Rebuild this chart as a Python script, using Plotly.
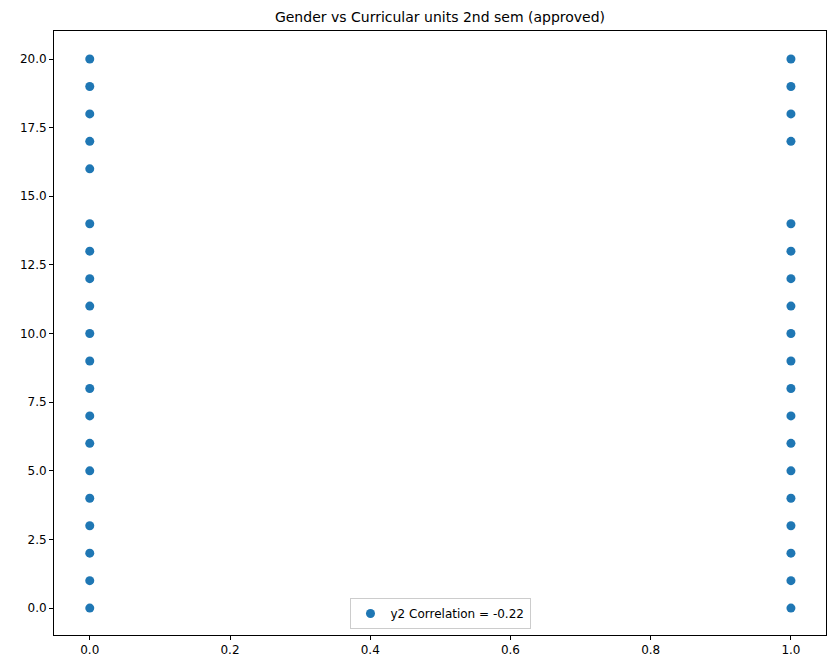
import plotly.graph_objects as go

# unique (gender, approved units) values seen in the scatter
female_units = [0, 1, 2, 3, 4, 5, 6, 7, 8, 9, 10, 11, 12, 13, 14, 16, 17, 18, 19, 20]
male_units = [0, 1, 2, 3, 4, 5, 6, 7, 8, 9, 10, 11, 12, 13, 14, 17, 18, 19, 20]
gender = [0] * len(female_units) + [1] * len(male_units)
units = female_units + male_units

fig = go.Figure()
fig.add_trace(go.Scatter(
    x=gender, y=units, mode="markers",
    name="y2 Correlation = -0.22",
    marker=dict(color="#1f77b4", size=9),
))

axis = dict(
    showgrid=False, zeroline=False, showline=True, mirror=True,
    linecolor="black", linewidth=1, ticks="outside", ticklen=4,
    tickcolor="black", tickfont=dict(size=12, color="black"),
)
fig.update_xaxes(range=[-0.051, 1.05], tickvals=[0, 0.2, 0.4, 0.6, 0.8, 1.0],
                 ticktext=["0.0", "0.2", "0.4", "0.6", "0.8", "1.0"], **axis)
fig.update_yaxes(range=[-0.98, 21.02], tickvals=[i * 2.5 for i in range(9)],
                 ticktext=[f"{i * 2.5:.1f}" for i in range(9)], **axis)

fig.update_layout(
    width=835, height=668,
    plot_bgcolor="white", paper_bgcolor="white",
    font=dict(family="DejaVu Sans", color="black"),
    title=dict(text="Gender vs Curricular units 2nd sem (approved)",
               xref="paper", x=0.5, xanchor="center",
               yref="container", y=0.986, yanchor="middle", font=dict(size=14)),
    margin=dict(l=43, r=17, t=23, b=41),
    showlegend=True,
    legend=dict(x=0.5, xanchor="center", y=0.01, yanchor="bottom",
                bordercolor="#cccccc", borderwidth=1, bgcolor="white",
                font=dict(size=12)),
)

fig.write_html("out.html")
